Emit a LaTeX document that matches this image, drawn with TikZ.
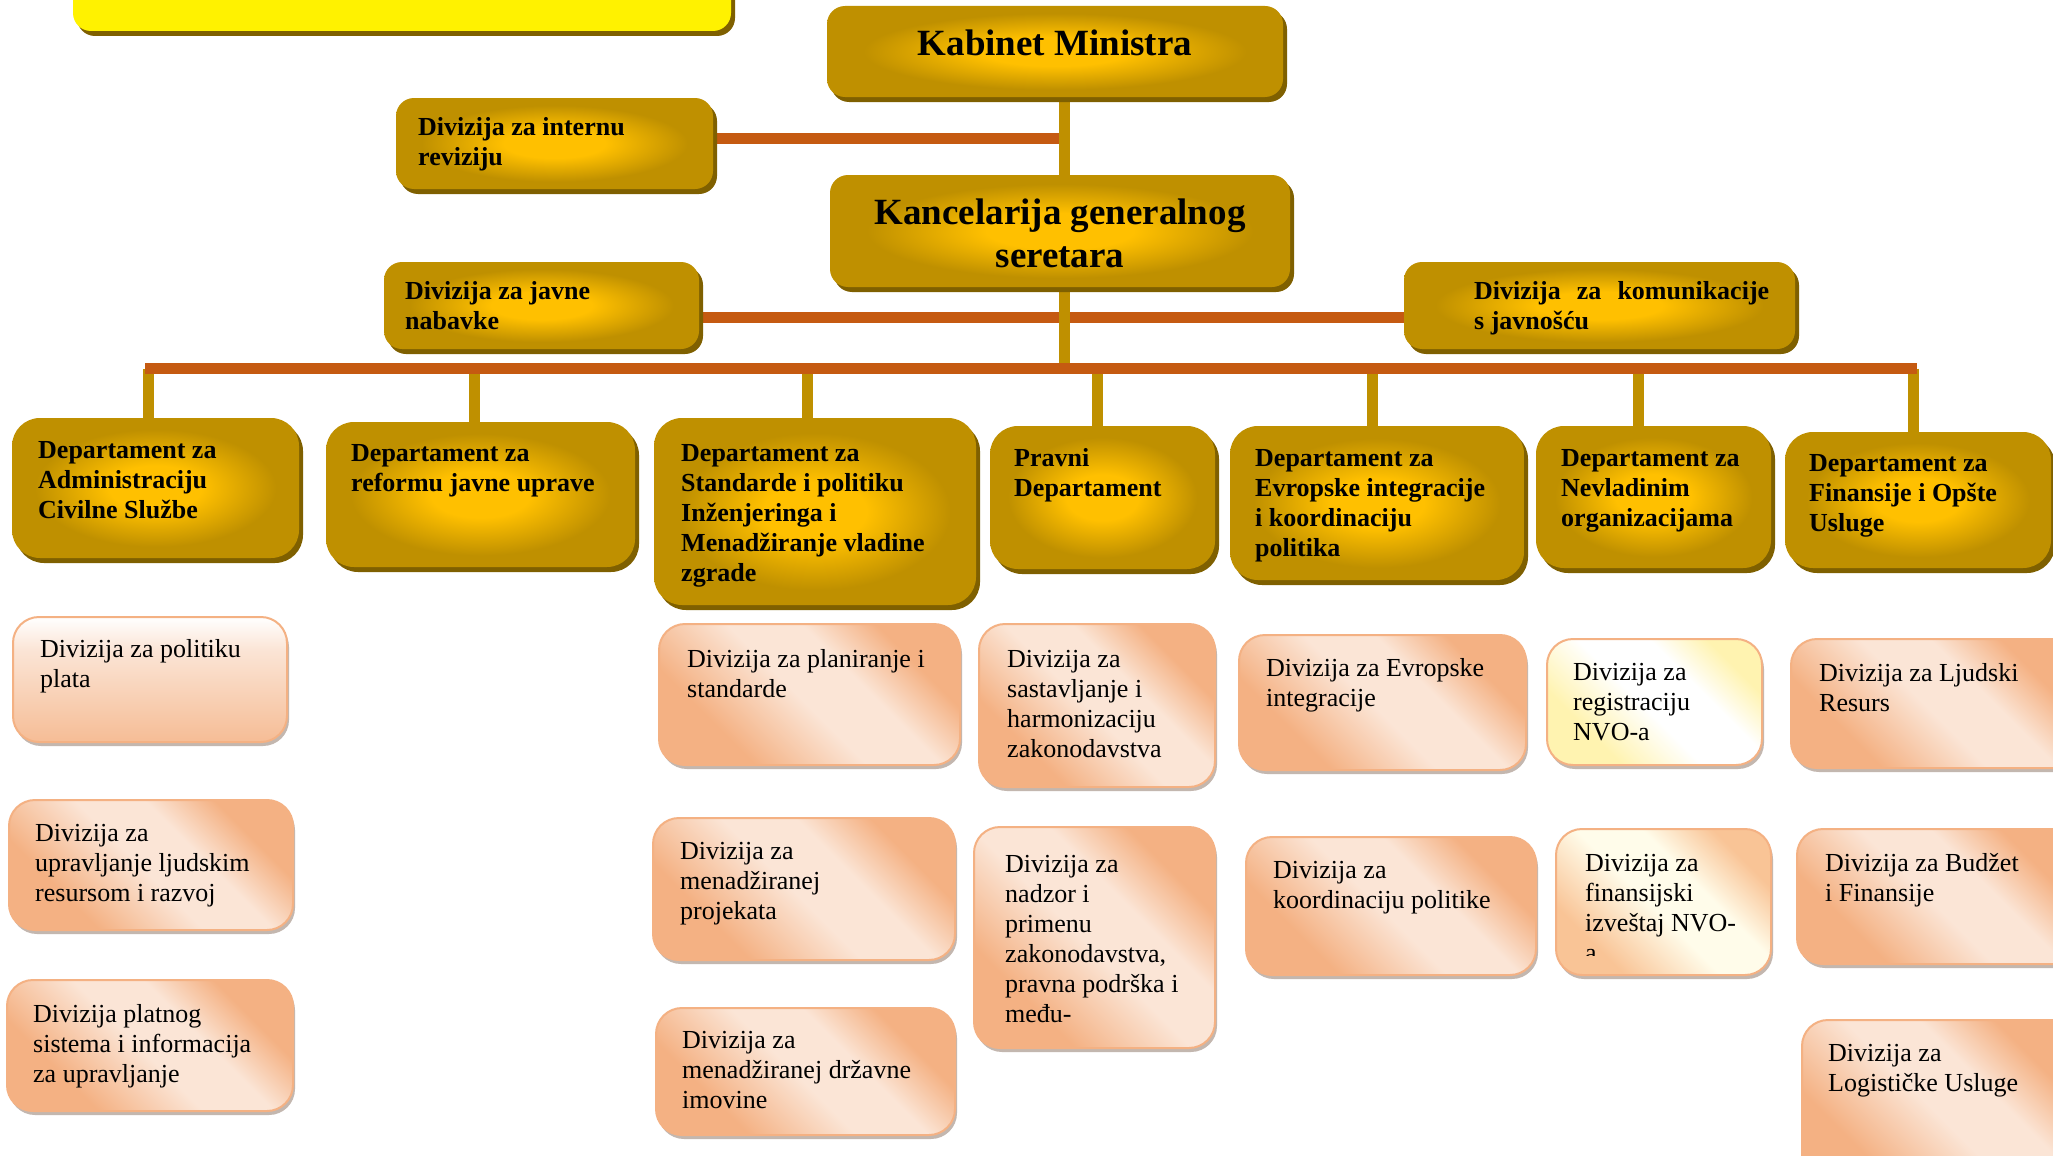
\documentclass[tikz,border=0pt]{standalone}
\usepackage{fontspec}
\setmainfont{Liberation Serif}
\usetikzlibrary{shadows}
\definecolor{gC}{HTML}{FFC000}
\definecolor{gE}{HTML}{BF9000}
\definecolor{gS}{HTML}{7F6000}
\definecolor{oL}{HTML}{C55A11}
\definecolor{pD}{HTML}{F4B183}
\definecolor{pL}{HTML}{FBE5D6}
\definecolor{pB}{HTML}{F4B183}
\definecolor{pS}{HTML}{B5A59C}
\definecolor{yL}{HTML}{FFF3B0}
\definecolor{yW}{HTML}{FFFCEA}
\definecolor{fO}{HTML}{F9C496}
\pgfdeclareradialshading{goldrad}{\pgfpoint{0bp}{0bp}}{color(0bp)=(gC); color(8bp)=(gC); color(21bp)=(gE); color(50bp)=(gE)}
\pgfdeclarehorizontalshading{peachdiag}{100bp}{color(0bp)=(pD); color(30bp)=(pD); color(48bp)=(pL); color(60bp)=(pL); color(72bp)=(pD); color(100bp)=(pD)}
\pgfdeclarehorizontalshading{regshade}{100bp}{color(0bp)=(yL); color(30bp)=(yL); color(47bp)=(white); color(62bp)=(white); color(74bp)=(yL); color(100bp)=(yL)}
\pgfdeclarehorizontalshading{finshade}{100bp}{color(0bp)=(fO); color(28bp)=(fO); color(47bp)=(yW); color(60bp)=(yW); color(74bp)=(fO); color(100bp)=(fO)}
\pgfdeclareverticalshading{platashade}{100bp}{color(0bp)=(pD!85!white); color(25bp)=(pD!85!white); color(62bp)=(pL); color(75bp)=(white); color(100bp)=(white)}
\pgfdeclarelayer{back}
\pgfdeclarelayer{bg}
\pgfsetlayers{back,bg,main}
\tikzset{
  goldbox/.style={shape=rectangle, rounded corners=18pt, shading=goldrad, inner sep=0pt, outer sep=0pt,
    drop shadow={shadow xshift=4pt, shadow yshift=-5pt, fill=gS, opacity=1}},
  deptbox/.style={goldbox, rounded corners=28pt},
  yellowbox/.style={shape=rectangle, rounded corners=18pt, fill=yellow, inner sep=0pt, outer sep=0pt,
    drop shadow={shadow xshift=4pt, shadow yshift=-5pt, fill=gS, opacity=1}},
  peachbox/.style={shape=rectangle, rounded corners=26pt, shading=peachdiag, shading angle=45, draw=pB, line width=2pt,
    inner sep=0pt, outer sep=0pt, drop shadow={shadow xshift=2pt, shadow yshift=-4pt, fill=pS, opacity=0.8}},
  platabox/.style={peachbox, shading=platashade, shading angle=0},
  regbox/.style={peachbox, shading=regshade, shading angle=45},
  finbox/.style={peachbox, shading=finshade, shading angle=45},
  gline/.style={draw=gE, line width=11pt},
  oline/.style={draw=oL, line width=11pt},
  bigtxt/.style={font=\fontsize{37}{43}\selectfont\bfseries, align=center, inner sep=0pt},
  btxt/.style={font=\fontsize{26}{30}\selectfont\bfseries, align=left, inner sep=0pt, anchor=north west},
  rtxt/.style={font=\fontsize{26}{30}\selectfont, align=left, inner sep=0pt, anchor=north west},
}
\newcommand\mkbox[6]{\node[#1, anchor=north west, minimum width={(#5-#3)*1pt}, minimum height={(#6-#4)*1pt}] (#2) at (#3,#4) {};}
\begin{document}
\begin{tikzpicture}[x=1pt,y=-1pt]
\useasboundingbox (0,0) rectangle (2053,1156);
\begin{pgfonlayer}{back}
\fill[white] (0,0) rectangle (2053,1156);
\end{pgfonlayer}
\clip (0,0) rectangle (2053,1156);
% top level
\mkbox{yellowbox}{yel}{73}{-40}{731}{31}
\mkbox{goldbox}{kab}{827}{6}{1283}{97}
\node[bigtxt, anchor=north] (tkab) at (1055,30) {Kabinet Ministra};
\mkbox{goldbox}{internu}{396}{98}{713}{189}
\node[btxt] (tinternu) at (418,117) {Divizija za internu\\reviziju};
\mkbox{goldbox}{kanc}{830}{175}{1290}{287}
\node[bigtxt, anchor=north] (tkanc) at (1060,199) {Kancelarija generalnog\\seretara};
\mkbox{goldbox}{javne}{384}{262}{699}{349}
\node[btxt] (tjavne) at (405,281) {Divizija za javne\\nabavke};
\mkbox{goldbox}{kom}{1404}{262}{1795}{349}
\node[btxt] (tkom) at (1474,281) {\makebox[295pt][s]{Divizija za komunikacije}\\s javnošću};
% departments
\mkbox{deptbox}{admin}{12}{418}{299}{558}
\node[btxt] (tadmin) at (38,441) {Departament za\\Administraciju\\Civilne Službe};
\mkbox{deptbox}{reform}{326}{422}{635}{567}
\node[btxt] (treform) at (351,444) {Departament za\\reformu javne uprave};
\mkbox{deptbox}{stand}{654}{418}{976}{605}
\node[btxt] (tstand) at (681,444) {Departament za\\Standarde i politiku\\Inženjeringa i\\Menadžiranje vladine\\zgrade};
\mkbox{deptbox}{pravni}{990}{426}{1215}{569}
\node[btxt] (tpravni) at (1014,448) {Pravni\\Departament};
\mkbox{deptbox}{evrop}{1230}{426}{1524}{580}
\node[btxt] (tevrop) at (1255,449) {Departament za\\Evropske integracije\\i koordinaciju\\politika};
\mkbox{deptbox}{nevlad}{1536}{426}{1771}{568}
\node[btxt] (tnevlad) at (1561,449) {Departament za\\Nevladinim\\organizacijama};
\mkbox{deptbox}{finan}{1785}{432}{2051}{568}
\node[btxt] (tfinan) at (1809,454) {Departament za\\Finansije i Opšte\\Usluge};
% divisions
\mkbox{platabox}{plata}{13}{617}{287}{742}
\node[rtxt] (tplata) at (40,639) {Divizija za politiku\\plata};
\mkbox{peachbox}{ljud}{9}{800}{293}{930}
\node[rtxt] (tljud) at (35,824) {Divizija za\\upravljanje ljudskim\\resursom i razvoj};
\mkbox{peachbox}{platn}{7}{980}{293}{1111}
\node[rtxt] (tplatn) at (33,1004) {Divizija platnog\\sistema i informacija\\za upravljanje};
\mkbox{peachbox}{plan}{659}{624}{960}{765}
\node[rtxt] (tplan) at (687,649) {Divizija za planiranje i\\standarde};
\mkbox{peachbox}{proj}{653}{818}{955}{960}
\node[rtxt] (tproj) at (680,842) {Divizija za\\menadžiranej\\projekata};
\mkbox{peachbox}{imov}{656}{1008}{955}{1135}
\node[rtxt] (timov) at (682,1031) {Divizija za\\menadžiranej državne\\imovine};
\mkbox{peachbox}{sast}{979}{624}{1215}{787}
\node[rtxt] (tsast) at (1007,650) {Divizija za\\sastavljanje i\\harmonizaciju\\zakonodavstva};
\mkbox{peachbox}{nadz}{974}{827}{1215}{1048}
\node[rtxt] (tnadz) at (1005,855) {Divizija za\\nadzor i\\primenu\\zakonodavstva,\\pravna podrška i\\među-};
\mkbox{peachbox}{evrint}{1239}{635}{1526}{770}
\node[rtxt] (tevrint) at (1266,658) {Divizija za Evropske\\integracije};
\mkbox{peachbox}{koord}{1246}{837}{1536}{975}
\node[rtxt] (tkoord) at (1273,861) {Divizija za\\koordinaciju politike};
\mkbox{regbox}{regis}{1547}{639}{1762}{765}
\node[rtxt] (tregis) at (1573,663) {Divizija za\\registraciju\\NVO-a};
\mkbox{finbox}{finiz}{1556}{829}{1771}{975}
\begin{scope}
\clip (1556,829) rectangle (1771,955);
\node[rtxt] (tfiniz) at (1585,854) {Divizija za\\finansijski\\izveštaj NVO-\\a};
\end{scope}
\mkbox{peachbox}{ljres}{1791}{639}{2080}{768}
\node[rtxt] (tljres) at (1819,663) {Divizija za Ljudski\\Resurs};
\mkbox{peachbox}{budz}{1797}{829}{2080}{964}
\node[rtxt] (tbudz) at (1825,853) {Divizija za Budžet\\i Finansije};
\mkbox{peachbox}{logi}{1802}{1020}{2080}{1190}
\node[rtxt] (tlogi) at (1828,1044) {Divizija za\\Logističke Usluge};
% connectors
\coordinate (tr) at (1064,368.5);
\coordinate (bL) at (145,368.5);
\coordinate (bR) at (1917,368.5);
\coordinate (d1) at (148,368.5);
\coordinate (d2) at (474,368.5);
\coordinate (d3) at (807,368.5);
\coordinate (d4) at (1097,368.5);
\coordinate (d5) at (1372,368.5);
\coordinate (d6) at (1638,368.5);
\coordinate (d7) at (1913,368.5);
\begin{pgfonlayer}{bg}
\draw[oline] ([yshift=5pt]internu.east) -- ([yshift=5pt]internu.east -| tr);
\draw[oline] ([yshift=-11.5pt]javne.east) -- ([yshift=-11.5pt]kom.west);
\draw[gline] (tr |- kab.south) -- (tr |- kanc.north);
\draw[gline] (tr |- kanc.south) -- (tr);
\draw[gline] (d1) -- (d1 |- admin.north);
\draw[gline] (d2) -- (d2 |- reform.north);
\draw[gline] (d3) -- (d3 |- stand.north);
\draw[gline] (d4) -- (d4 |- pravni.north);
\draw[gline] (d5) -- (d5 |- evrop.north);
\draw[gline] (d6) -- (d6 |- nevlad.north);
\draw[gline] (d7) -- (d7 |- finan.north);
\draw[oline] (bL) -- (bR);
\end{pgfonlayer}
\end{tikzpicture}
\end{document}
